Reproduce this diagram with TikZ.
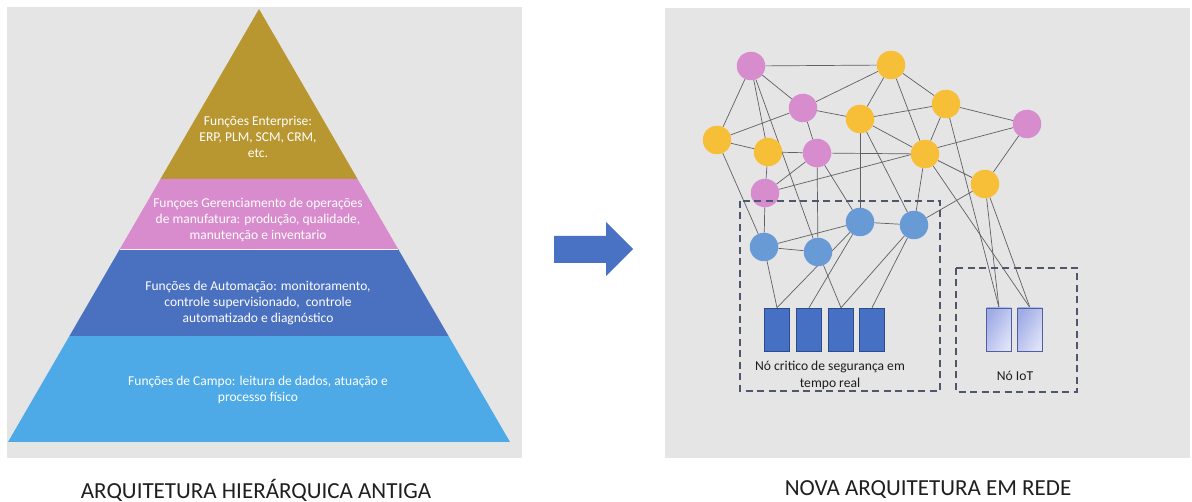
\documentclass[tikz,border=0pt]{standalone}
\usepackage{fontspec}
\setmainfont{Carlito}
\usetikzlibrary{calc}
\pgfdeclarelayer{back}
\pgfdeclarelayer{edges}
\pgfsetlayers{back,edges,main}
\definecolor{panelgray}{RGB}{230,229,229}
\definecolor{tierbrown}{RGB}{184,150,48}
\definecolor{tierpink}{RGB}{217,140,205}
\definecolor{tierblue}{RGB}{74,112,192}
\definecolor{tiersky}{RGB}{78,170,230}
\definecolor{arrowblue}{RGB}{74,114,196}
\definecolor{nodepink}{RGB}{215,140,205}
\definecolor{nodeyellow}{RGB}{247,190,56}
\definecolor{nodeblue}{RGB}{104,154,214}
\definecolor{linkgray}{RGB}{95,95,100}
\definecolor{zonegray}{RGB}{80,86,110}
\definecolor{devdark}{RGB}{70,112,196}
\definecolor{devedge}{RGB}{45,75,140}
\definecolor{iotlight}{RGB}{222,226,248}
\definecolor{iotdark}{RGB}{160,172,230}
\definecolor{iotedge}{RGB}{80,95,160}
\definecolor{labeltext}{RGB}{30,30,30}
\begin{document}
\begin{tikzpicture}[x=1pt,y=-1pt,
  tiertext/.style={align=center, text=white, font=\fontsize{13.5}{16.3}\selectfont},
  caption/.style={text=black!88, font=\fontsize{23}{26}\selectfont},
  netnode/.style={circle, minimum size=28.5pt, inner sep=0pt},
  pinknode/.style={netnode, fill=nodepink},
  yellownode/.style={netnode, fill=nodeyellow},
  bluenode/.style={netnode, fill=nodeblue},
  link/.style={draw=linkgray, line width=0.7pt},
  devbox/.style={rectangle, minimum width=25pt, minimum height=43pt, inner sep=0pt,
    fill=devdark, draw=devedge, line width=0.6pt},
  iotbox/.style={rectangle, minimum width=25pt, minimum height=43pt, inner sep=0pt,
    left color=iotdark, right color=iotlight, shading angle=60, draw=iotedge, line width=0.6pt},
  zonebox/.style={draw=zonegray, line width=1.4pt, dash pattern=on 7pt off 4.5pt},
  zonetext/.style={align=center, text=labeltext, font=\fontsize{13.6}{16.8}\selectfont}]

\useasboundingbox (0,0) rectangle (1192,502);

% panels
\begin{pgfonlayer}{back}
  \fill[panelgray] (7,7) rectangle (522,458);
  \fill[panelgray] (665,8) rectangle (1190,458);
\end{pgfonlayer}

% ---------- hierarchical pyramid ----------
\coordinate (apex) at (259,9);
\coordinate (bl) at (8,442);
\coordinate (br) at (510,442);
\coordinate (l1) at ($(apex)!0.3926!(bl)$);
\coordinate (r1) at ($(apex)!0.3926!(br)$);
\coordinate (l2) at ($(apex)!0.5543!(bl)$);
\coordinate (r2) at ($(apex)!0.5543!(br)$);
\coordinate (l3) at ($(apex)!0.7552!(bl)$);
\coordinate (r3) at ($(apex)!0.7552!(br)$);

\fill[tierbrown] (apex) -- (r1) -- (l1) -- cycle;
\fill[tierpink] (l1) -- (r1) -- (r2) -- (l2) -- cycle;
\fill[tierblue] (l2) -- (r2) -- (r3) -- (l3) -- cycle;
\fill[tiersky] (l3) -- (r3) -- (br) -- (bl) -- cycle;
\draw[white!85!tierpink, line width=0.8pt] (l2) -- (r2);

\node[tiertext] (tier1) at (258,137) {Funções Enterprise:\\ERP, PLM, SCM, CRM,\\etc.};
\node[tiertext] (tier2) at (258,220) {Funçoes Gerenciamento de operações\\de manufatura: produção, qualidade,\\manutenção e inventario};
\node[tiertext] (tier3) at (258,303) {Funções de Automação: monitoramento,\\controle supervisionado, \ controle\\automatizado e diagnóstico};
\node[tiertext] (tier4) at (258,390) {Funções de Campo: leitura de dados, atuação e\\processo físico};

\node[caption] (capleft) at (256,490) {ARQUITETURA HIERÁRQUICA ANTIGA};

% ---------- transition arrow ----------
\fill[arrowblue] (554,236) -- (606,236) -- (606,222) -- (633,249) -- (606,276)
  -- (606,263) -- (554,263) -- cycle;

% ---------- networked architecture ----------
\node[pinknode] (p1) at (751,66) {};
\node[yellownode] (y1) at (891,65) {};
\node[pinknode] (p2) at (803,108) {};
\node[yellownode] (y2) at (860,119) {};
\node[yellownode] (y3) at (946,104) {};
\node[pinknode] (p3) at (1027,124) {};
\node[yellownode] (y4) at (717,140) {};
\node[yellownode] (y5) at (768,152) {};
\node[pinknode] (p4) at (817,153) {};
\node[yellownode] (y6) at (925,154) {};
\node[yellownode] (y7) at (985,184) {};
\node[pinknode] (p5) at (765,193) {};
\node[bluenode] (b1) at (764,247) {};
\node[bluenode] (b2) at (818,252) {};
\node[bluenode] (b3) at (860,222) {};
\node[bluenode] (b4) at (914,225) {};

\node[devbox] (d1) at (777,329.5) {};
\node[devbox] (d2) at (809,329.5) {};
\node[devbox] (d3) at (841,329.5) {};
\node[devbox] (d4) at (872,329.5) {};
\node[iotbox] (i1) at (999,329.5) {};
\node[iotbox] (i2) at (1030,329.5) {};

\draw[zonebox] (740,201) rectangle (940,391);
\draw[zonebox] (956,268) rectangle (1077,392);

\node[zonetext] (rtlabel) at (830,375) {Nó critico de segurança em\\tempo real};
\node[zonetext] (iotlabel) at (1015,376) {Nó IoT};

\begin{pgfonlayer}{edges}
  \foreach \a/\b in {p1/y1, p1/y4, p1/p2, p1/y5, p1/b2,
                     p2/y4, p2/y1, p2/y2, p2/p4,
                     y1/y2, y1/y3, y1/y6,
                     y2/y3, y2/y6, y2/b3, y2/b4,
                     y3/p3, y3/y6,
                     p3/y7, p3/p5,
                     y4/y5, y4/b1,
                     y5/p4, y5/p5,
                     p4/y6, p4/p5, p4/b2, p4/b3,
                     y6/y7, y6/b4, y7/b4,
                     p5/b1,
                     b1/b2, b1/b3, b3/b4}
    \draw[link] (\a) -- (\b);
  \foreach \a/\b in {b1/d1, b3/d1, b3/d2, b2/d3, b4/d3, b4/d4,
                     y3/i1, y7/i1, y7/i2, y6/i2}
    \draw[link] (\a) -- (\b.north);
\end{pgfonlayer}

\node[caption] (capright) at (928,490) {NOVA ARQUITETURA EM REDE};

\end{tikzpicture}
\end{document}
